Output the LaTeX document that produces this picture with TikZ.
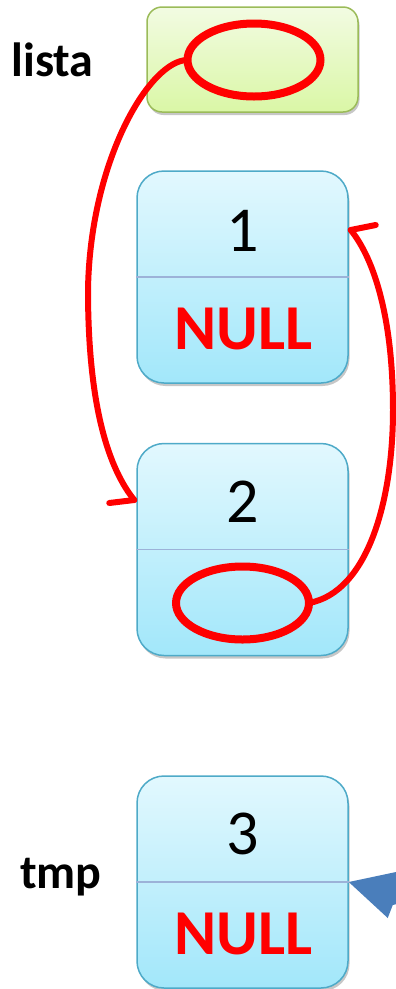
\documentclass[tikz,border=0pt]{standalone}
\usepackage{fontspec}
\setmainfont{Carlito}
\usetikzlibrary{shapes.geometric,shadows,calc}
\definecolor{celltop}{HTML}{E2F8FE}
\definecolor{cellbot}{HTML}{A2E7FA}
\definecolor{cellborder}{HTML}{4EAAC8}
\definecolor{divcol}{HTML}{9CB2D8}
\definecolor{greentop}{HTML}{F2FBE2}
\definecolor{greenbot}{HTML}{DAF7A6}
\definecolor{greenborder}{HTML}{9BBB59}
\definecolor{arrowblue}{HTML}{4A7EBB}
\begin{document}
\begin{tikzpicture}[x=1pt,y=-1pt,
  cell/.style={rectangle, rounded corners=27pt, minimum width=211pt, minimum height=212pt,
    inner sep=0pt, draw=cellborder, line width=1.5pt, top color=celltop, bottom color=cellbot,
    drop shadow={shadow xshift=1.5pt, shadow yshift=-3pt, opacity=0.22, fill=black}},
  headbox/.style={rectangle, rounded corners=15pt, minimum width=211pt, minimum height=105pt,
    inner sep=0pt, draw=greenborder, line width=1.5pt, top color=greentop, bottom color=greenbot,
    drop shadow={shadow xshift=1.5pt, shadow yshift=-3pt, opacity=0.22, fill=black}},
  divider/.style={draw=divcol, line width=1.6pt},
  digit/.style={font=\fontsize{64}{64}\selectfont, anchor=base, text=black},
  nulltext/.style={font=\fontsize{64}{64}\selectfont\bfseries, anchor=base, text=red},
  varname/.style={font=\fontsize{48}{48}\selectfont\bfseries, anchor=base, text=black},
  ring/.style={ellipse, draw=red, line width=8pt, minimum width=133pt, minimum height=73pt,
    inner sep=0pt, outer sep=0pt},
  redline/.style={draw=red, line width=6pt, line cap=round, line join=round}
]
\useasboundingbox (0,0) rectangle (396,989);
\clip (0,0) rectangle (396,989);

% boxes
\node[headbox] (head) at (252.5,59.5) {};
\node[cell] (n1) at (242.5,277) {};
\node[cell] (n2) at (242.5,549.5) {};
\node[cell] (n3) at (242.5,882) {};

\draw[divider] (n1.west) -- (n1.east);
\draw[divider] (n2.west) -- (n2.east);
\draw[divider] (n3.west) -- (n3.east);

% texts
\node[varname] (lista) at (52.5,76) {lista};
\node[varname] (tmp) at (61,888) {tmp};
\node[digit] (d1) at (243,251) {1};
\node[nulltext] (null1) at (243.5,349) {NULL};
\node[digit] (d2) at (243,522) {2};
\node[digit] (d3) at (243,854) {3};
\node[nulltext] (null3) at (243.5,954) {NULL};

% red rings
\node[ring] (e1) at (254,60) {};
\node[ring] (e2) at (242.5,603) {};

% red curves
\coordinate (tipA) at ($(n2.west)+(-2,-49.5)$);
\coordinate (tipB) at ($(n1.east)+(2,-47)$);
\coordinate (midA) at (88,290);
\coordinate (midB) at (393,410);
\draw[redline] (e1.west) .. controls (150,60) and (90,160) .. (midA)
  .. controls (88,410) and (110,470) .. (tipA);
\draw[redline] (tipA) -- ++(-25,3);
\draw[redline] (e2.east) .. controls (368,592) and (393,500) .. (midB)
  .. controls (393,320) and (375,260) .. (tipB);
\draw[redline] (tipB) -- ++(25,-5);

% blue arrow head
\fill[arrowblue] (n3.east) -- ++(52,-11) -- ++(0,32) -- ++(-8,2) -- ++(-5,13) -- cycle;
\end{tikzpicture}
\end{document}
